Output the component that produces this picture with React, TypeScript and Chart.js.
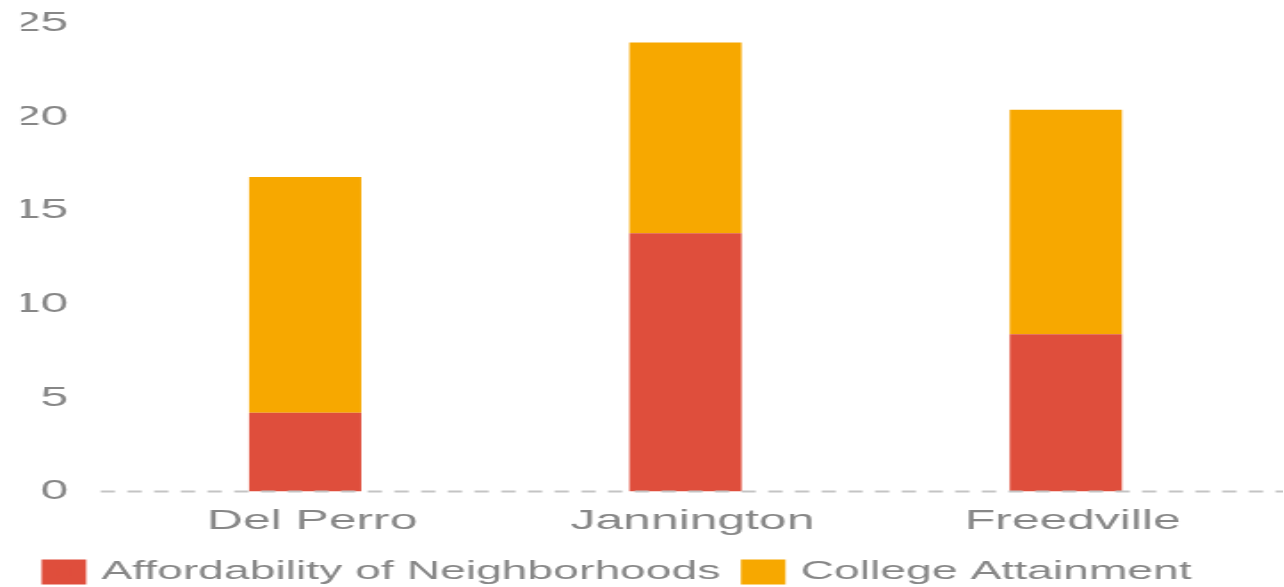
import React, { useEffect, useRef } from "react";
import { Chart, registerables } from "chart.js";

Chart.register(...registerables);

const categories = ["Del Perro", "Jannington", "Freedville"];
const affordability = [4.2, 13.8, 8.4];
const college = [12.6, 10.2, 12.0];
const yTicks = [0, 5, 10, 15, 20, 25];
const seriesNames = ["Affordability of Neighborhoods", "College Attainment"];
const seriesColors = ["#DF4E3C", "#F7A800"];

const SCALE_X = 1.78;
const BASE_W = 1284 / SCALE_X;
const H = 587;
const TEXT = "#878787";
const FONT = "'Liberation Sans', Arial, sans-serif";
const PAD_LEFT = 11.9;
const CHART_LEFT = 64.6;
const CHART_TOP = 23.7;

const zeroLinePlugin = {
  id: "zeroLine",
  afterDatasetsDraw(chart: any) {
    const y = chart.scales.y.getPixelForValue(0);
    const ctx = chart.ctx;
    ctx.save();
    ctx.strokeStyle = "#c4c4c4";
    ctx.lineWidth = 2;
    ctx.setLineDash([8, 7]);
    ctx.beginPath();
    ctx.moveTo(chart.chartArea.left - 8, y);
    ctx.lineTo(chart.width, y);
    ctx.stroke();
    ctx.restore();
  },
};

export default function App() {
  const ref = useRef<HTMLCanvasElement | null>(null);

  useEffect(() => {
    document.body.style.margin = "0";
    document.body.style.overflow = "hidden";
    const chart = new Chart(ref.current as HTMLCanvasElement, {
      type: "bar",
      data: {
        labels: categories,
        datasets: [
          {
            label: seriesNames[0],
            data: affordability,
            backgroundColor: seriesColors[0],
            barPercentage: 0.295,
            categoryPercentage: 1,
          } as any,
          {
            label: seriesNames[1],
            data: college,
            backgroundColor: seriesColors[1],
            barPercentage: 0.295,
            categoryPercentage: 1,
          } as any,
        ],
      },
      options: {
        animation: false,
        responsive: true,
        maintainAspectRatio: false,
        layout: { padding: { left: PAD_LEFT, right: 15.7, top: 0, bottom: -8 } },
        scales: {
          x: {
            stacked: true,
            grid: { display: false },
            border: { display: false },
            afterFit: (s: any) => {
              s.paddingLeft = 0;
              s.paddingRight = 0;
            },
            ticks: {
              color: TEXT,
              font: { family: FONT, size: 28 },
              padding: 5,
              labelOffset: 3.9,
            },
          },
          y: {
            stacked: true,
            min: 0,
            max: 25,
            grid: { display: false },
            border: { display: false },
            afterBuildTicks: (s: any) => {
              s.ticks = yTicks.map((v) => ({ value: v }));
            },
            afterFit: (s: any) => {
              s.width = CHART_LEFT - PAD_LEFT;
              s.paddingTop = CHART_TOP;
              s.paddingBottom = 0;
            },
            ticks: { color: TEXT, font: { family: FONT, size: 28 }, padding: 18.3 },
          },
        },
        plugins: {
          tooltip: { enabled: false },
          legend: {
            position: "bottom",
            align: "start",
            labels: {
              color: TEXT,
              font: { family: FONT, size: 26 },
              boxWidth: 16,
              boxHeight: 16,
              padding: 16,
              generateLabels: (c: any) =>
                Chart.defaults.plugins.legend.labels
                  .generateLabels(c)
                  .map((it: any) => ({
                    ...it,
                    lineWidth: 9,
                    strokeStyle: it.fillStyle,
                    lineJoin: "miter",
                  })),
            },
          },
        },
      },
      plugins: [zeroLinePlugin],
    } as any);
    return () => chart.destroy();
  }, []);

  return (
    <div
      style={{
        width: BASE_W,
        height: H,
        transform: `scaleX(${SCALE_X})`,
        transformOrigin: "0 0",
        position: "relative",
      }}
    >
      <canvas ref={ref} />
    </div>
  );
}
